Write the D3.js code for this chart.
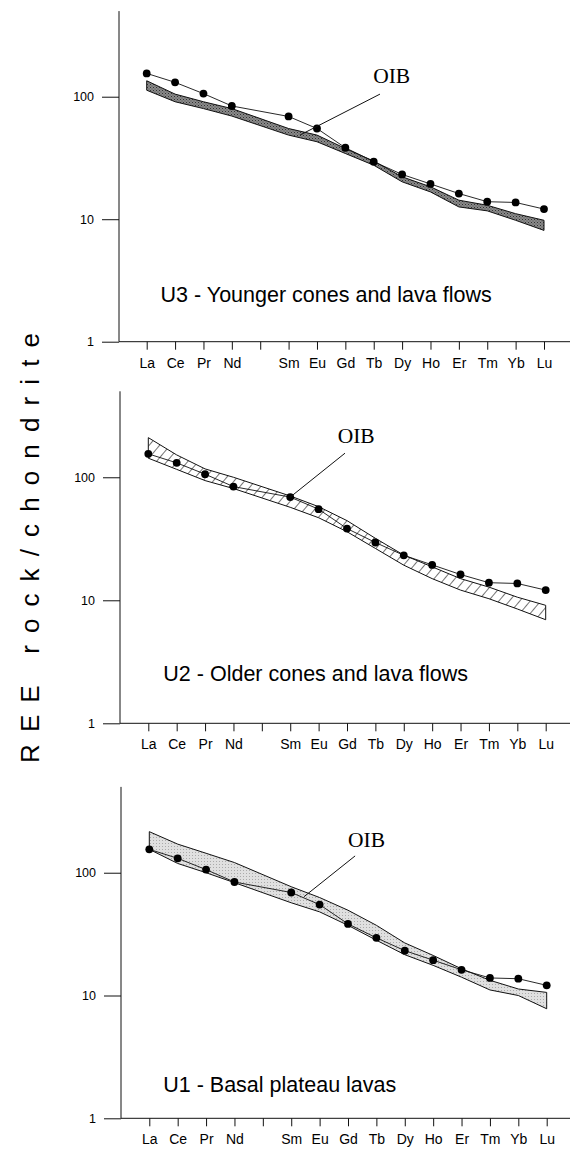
<!DOCTYPE html>
<html><head><meta charset="utf-8">
<script src="https://cdn.jsdelivr.net/npm/d3@7"></script>
<style>body{margin:0;background:#fff}</style>
</head><body>
<svg id="c" width="570" height="1150"></svg>
<script>
// ---------- data ----------
const elements = ["La","Ce","Pr","Nd","Pm","Sm","Eu","Gd","Tb","Dy","Ho","Er","Tm","Yb","Lu"];
const tickLabels = ["La","Ce","Pr","Nd","","Sm","Eu","Gd","Tb","Dy","Ho","Er","Tm","Yb","Lu"];
const yMajorTicks = [1, 10, 100];
const oib =      [155, 131, 106, 84, null, 69, 55, 38.3, 29.5, 23.2, 19.4, 16.2, 13.9, 13.7, 12.1];
const u3Upper =  [135, 105, 91, 80, null, 55, 48.6, 37.8, 29.8, 22.2, 18.4, 14.3, 13.0, 11.1, 9.8];
const u3Lower =  [113, 91, 80, 69.5, null, 48.6, 42.9, 34.4, 27.6, 20.2, 16.7, 12.6, 11.7, 9.8, 8.1];
const u2Upper =  [210, 152, 117, 100, null, 70.5, 57.7, 44.4, 31.9, 23.3, 18.7, 15.0, 12.8, 10.6, 9.1];
const u2Lower =  [143, 116, 94, 81, null, 57, 46.9, 36.1, 26.4, 19.3, 15.0, 12.1, 10.3, 8.5, 6.95];
const u1Upper =  [216, 171, 144, 121, null, 76.9, 62.8, 49.5, 37.3, 26.8, 21.2, 16.5, 13.3, 11.3, 10.6];
const u1Lower =  [155, 119, 100, 83, null, 56.9, 48, 37.3, 28.2, 21.5, 17.6, 14.1, 11.1, 10.0, 7.8];
const titles = ["U3 - Younger cones and lava flows", "U2 - Older cones and lava flows", "U1 - Basal plateau lavas"];
const yTitle = "REE rock/chondrite";

// ---------- layout ----------
const panels = [
  {upper:u3Upper, lower:u3Lower, title:titles[0], fill:"url(#stipDark)",
   y1:341.7, y500:11.1, xLa:146.7, xLu:544, ax:119,
   label:[7.98,129], lead:[[8.22,105],[5.4,48.6]], tpos:[0.49,2.12]},
  {upper:u2Upper, lower:u2Lower, title:titles[1], fill:"url(#hatch)",
   y1:723.3, y500:391.3, xLa:148.3, xLu:545.7, ax:120,
   label:[6.67,190], lead:[[6.93,157],[5,69]], tpos:[0.53,2.22]},
  {upper:u1Upper, lower:u1Lower, title:titles[2], fill:"url(#stipLight)",
   y1:1118.3, y500:786.9, xLa:149.3, xLu:546.7, ax:121,
   label:[7.0,162], lead:[[7.25,137],[5.45,63.8]], tpos:[0.49,1.65]}
];

const svg = d3.select("#c");
const defs = svg.append("defs");
// dark stipple
const pd = defs.append("pattern").attr("id","stipDark").attr("patternUnits","userSpaceOnUse").attr("width",3).attr("height",3);
pd.append("rect").attr("width",3).attr("height",3).attr("fill","#8a8a8a");
pd.append("rect").attr("width",1).attr("height",1).attr("fill","#333");
pd.append("rect").attr("x",1.5).attr("y",1.5).attr("width",1).attr("height",1).attr("fill","#4a4a4a");
// light stipple
const pl = defs.append("pattern").attr("id","stipLight").attr("patternUnits","userSpaceOnUse").attr("width",3).attr("height",3);
pl.append("rect").attr("width",3).attr("height",3).attr("fill","#e0e0e0");
pl.append("rect").attr("width",1).attr("height",1).attr("fill","#aaa");
// hatch
const ph = defs.append("pattern").attr("id","hatch").attr("patternUnits","userSpaceOnUse")
  .attr("width",8).attr("height",8).attr("patternTransform","rotate(40)");
ph.append("rect").attr("width",8).attr("height",8).attr("fill","#fff");
ph.append("line").attr("x1",0).attr("y1",0).attr("x2",0).attr("y2",8).attr("stroke","#000").attr("stroke-width",1.1);

const ink = "#111";

panels.forEach(p => {
  const x = d3.scaleLinear().domain([0,14]).range([p.xLa,p.xLu]);
  const y = d3.scaleLog().domain([1,500]).range([p.y1,p.y500]);
  const g = svg.append("g");

  // band
  const band = elements.map((e,i)=>({i, u:p.upper[i], l:p.lower[i]})).filter(d=>d.u!=null);
  const area = d3.area().x(d=>x(d.i)).y0(d=>y(d.l)).y1(d=>y(d.u)).curve(d3.curveLinear);
  g.append("path").attr("d",area(band)).attr("fill",p.fill).attr("stroke",ink).attr("stroke-width",1).attr("stroke-linejoin","round");

  // y axis
  const minor = [];
  [1,10,100].forEach(d=>{for(let k=2;k<=9;k++){const v=d*k; if(v<=500) minor.push(v);}});
  const yMin = d3.axisLeft(y).tickValues(minor).tickSize(9).tickFormat("");
  const yMaj = d3.axisLeft(y).tickValues(yMajorTicks).tickSize(17).tickPadding(8).tickFormat(d3.format("d"));
  const ga = g.append("g").attr("transform",`translate(${p.ax},0)`);
  ga.call(yMin); ga.call(yMaj);
  ga.selectAll(".domain").remove();
  ga.append("line").attr("x1",0).attr("x2",0).attr("y1",y(1)).attr("y2",y(500)).attr("stroke",ink);
  ga.selectAll("line").attr("stroke",ink).attr("stroke-width",1);
  ga.selectAll("text").attr("font-family","Liberation Sans, Arial, sans-serif").attr("font-size",12.5).attr("fill","#000");

  // x axis
  const xa = d3.axisBottom(x).tickValues(d3.range(0,15)).tickSize(8).tickPadding(8)
    .tickFormat(i => tickLabels[i] || "");
  const gx = g.append("g").attr("transform",`translate(0,${p.y1})`).call(xa);
  gx.selectAll(".domain").remove();
  gx.append("line").attr("x1",p.ax).attr("x2",570).attr("y1",0).attr("y2",0).attr("stroke",ink);
  gx.selectAll("line").attr("stroke",ink).attr("stroke-width",1);
  gx.selectAll("text").attr("font-family","Liberation Sans, Arial, sans-serif").attr("font-size",14).attr("fill","#000");

  // OIB line & points
  const pts = elements.map((e,i)=>({i, v:oib[i]})).filter(d=>d.v!=null);
  g.append("path").attr("d", d3.line().x(d=>x(d.i)).y(d=>y(d.v))(pts))
    .attr("fill","none").attr("stroke",ink).attr("stroke-width",0.9);
  g.selectAll("circle.o").data(pts).join("circle").attr("class","o")
    .attr("cx",d=>x(d.i)).attr("cy",d=>y(d.v)).attr("r",3.9).attr("fill","#000");

  // OIB label + leader
  g.append("line").attr("x1",x(p.lead[0][0])).attr("y1",y(p.lead[0][1]))
    .attr("x2",x(p.lead[1][0])).attr("y2",y(p.lead[1][1])).attr("stroke",ink).attr("stroke-width",1);
  g.append("text").attr("x",x(p.label[0])).attr("y",y(p.label[1])).text("OIB")
    .attr("font-family","Liberation Serif, Times New Roman, serif").attr("font-size",21.5).attr("fill","#000");

  // title
  g.append("text").attr("x",x(p.tpos[0])).attr("y",y(p.tpos[1])).text(p.title)
    .attr("font-family","Liberation Sans, Arial, sans-serif").attr("font-size",21.5).attr("fill","#000");
});

// y title
svg.append("text").attr("transform","translate(39,548) rotate(-90)")
  .attr("text-anchor","middle").attr("font-family","Liberation Sans, Arial, sans-serif")
  .attr("font-size",26).attr("textLength",430).attr("lengthAdjust","spacing").attr("fill","#000")
  .text(yTitle);
</script>
</body></html>
